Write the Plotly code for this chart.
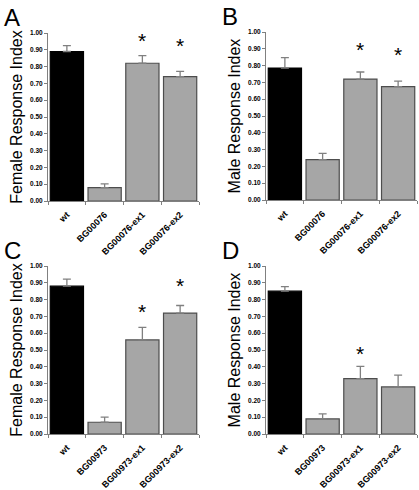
import plotly.graph_objects as go

W, H = 419, 490

cats_76 = ["wt", "BG00076", "BG00076-ex1", "BG00076-ex2"]
cats_973 = ["wt", "BG00973", "BG00973-ex1", "BG00973-ex2"]

a_vals = [0.89, 0.08, 0.82, 0.74]
a_err = [0.035, 0.022, 0.045, 0.032]
a_star = [None, None, 0.955, 0.925]

b_vals = [0.785, 0.24, 0.72, 0.675]
b_err = [0.062, 0.037, 0.042, 0.032]
b_star = [None, None, 0.895, 0.865]

c_vals = [0.88, 0.07, 0.56, 0.72]
c_err = [0.042, 0.03, 0.075, 0.045]
c_star = [None, None, 0.73, 0.885]

d_vals = [0.85, 0.09, 0.33, 0.28]
d_err = [0.027, 0.03, 0.072, 0.07]
d_star = [None, None, 0.48, None]

yticks = [0.0, 0.1, 0.2, 0.3, 0.4, 0.5, 0.6, 0.7, 0.8, 0.9, 1.0]

panels = [
    ("A", cats_76, a_vals, a_err, a_star, "Female Response Index", (48, 199), (33, 201)),
    ("B", cats_76, b_vals, b_err, b_star, "Male Response Index", (266, 417), (32, 200)),
    ("C", cats_973, c_vals, c_err, c_star, "Female Response Index", (48, 199), (266, 434)),
    ("D", cats_973, d_vals, d_err, d_star, "Male Response Index", (266, 417), (266, 434)),
]

FONT = "Liberation Sans, Arial, sans-serif"

fig = go.Figure()
annotations = []
for i, (letter, cats, vals, errs, stars, ytitle, (x0, x1), (y0, y1)) in enumerate(panels):
    n = "" if i == 0 else str(i + 1)
    xa, ya = "x" + n, "y" + n
    fills = ["#000000"] + ["#a6a6a6"] * (len(cats) - 1)
    lines = ["#000000"] + ["#4d4d4d"] * (len(cats) - 1)
    fig.add_trace(go.Bar(
        x=cats, y=vals, xaxis=xa, yaxis=ya,
        marker=dict(color=fills, line=dict(color=lines, width=1.2)),
        error_y=dict(type="data", array=errs, arrayminus=[0] * len(errs), symmetric=False,
                     color="#808080", thickness=1.3, width=4),
        showlegend=False, hoverinfo="skip",
    ))
    for c, s in zip(cats, stars):
        if s is not None:
            annotations.append(dict(x=c, y=s, xref=xa, yref=ya, text="*", showarrow=False,
                                    font=dict(family=FONT, size=21, color="black"),
                                    yanchor="middle"))
    annotations.append(dict(x=(x0 - 46) / W, y=1 - (y0 - 31) / H, xref="paper", yref="paper",
                            text=letter, showarrow=False, xanchor="left", yanchor="top",
                            font=dict(family=FONT, size=24, color="black")))
    fig.update_layout(**{
        ("xaxis" + n): dict(domain=[x0 / W, x1 / W], anchor=ya, type="category", automargin=False,
                            tickson="boundaries", ticks="outside", ticklen=3, tickcolor="#808080",
                            showline=True, linecolor="#808080", linewidth=1, tickangle=-45,
                            ticklabelstandoff=4,
                            tickfont=dict(family=FONT, size=9, color="black", weight="bold"),
                            showgrid=False, zeroline=False, fixedrange=True),
        ("yaxis" + n): dict(domain=[1 - y1 / H, 1 - y0 / H], anchor=xa, range=[0, 1.0], automargin=False,
                            tickvals=yticks, tickformat=".2f", ticks="outside", ticklen=3,
                            tickcolor="#808080", showline=True, linecolor="#808080", linewidth=1,
                            tickfont=dict(family=FONT, size=6.5, color="black", weight="bold"),
                            title=dict(text=ytitle, standoff=3,
                                       font=dict(family=FONT, size=16, color="black")),
                            showgrid=False, zeroline=False, fixedrange=True),
    })

fig.update_layout(
    width=W, height=H, margin=dict(l=0, r=0, t=0, b=0),
    paper_bgcolor="white", plot_bgcolor="white",
    bargap=0.12, annotations=annotations,
)
fig.write_html("out.html", post_script="document.body.style.margin='0';",
               config={"displayModeBar": False})
